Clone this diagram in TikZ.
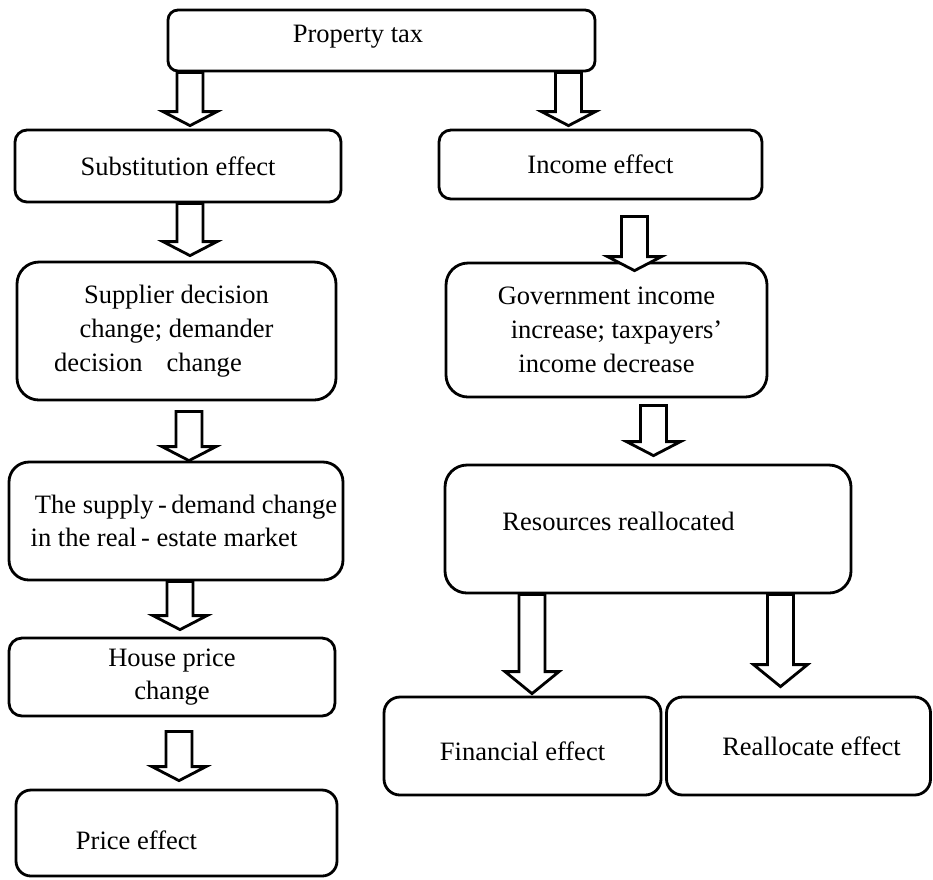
\documentclass[tikz,border=0pt]{standalone}
\usepackage{fontspec}
\setmainfont{Liberation Serif}
\usetikzlibrary{calc}

\tikzset{
  effbox/.style={draw,line width=0.8pt,rounded corners=#1,align=center,inner sep=0pt},
  effbox/.default=0.12cm,
  blockshape/.style={draw,fill=white,line width=0.8pt,line join=miter}
}
% hollow block arrow: [head length]{start}{tip}
\newcommand{\blockarrow}[3][0.14]{%
  \draw[blockshape] let \p1=#2, \p2=#3 in
    (\x1-0.13cm,\y1) -- (\x1-0.13cm,\y2+#1cm) -- (\x1-0.27cm,\y2+#1cm) -- (\x1,\y2)
    -- (\x1+0.27cm,\y2+#1cm) -- (\x1+0.13cm,\y2+#1cm) -- (\x1+0.13cm,\y1) -- cycle;}

\begin{document}
\begin{tikzpicture}[font=\fontsize{7.55}{9.6}\selectfont]
  \useasboundingbox (0,0) rectangle (9.33,-8.79);

  % Top box
  \node[effbox=0.10cm,minimum width=4.27cm,minimum height=0.61cm,text height=0.13cm,text depth=0.10cm]
        (pt) at (3.815,-0.405) {\hspace*{-0.47cm}Property tax};

  % Left column
  \node[effbox=0.12cm,minimum width=3.26cm,minimum height=0.72cm]
        (sub) at (1.78,-1.66) {Substitution effect};
  \node[effbox=0.22cm,minimum width=3.19cm,minimum height=1.38cm]
        (sup) at (1.765,-3.31) {Supplier decision\\change; demander\\\hspace*{-0.57cm}decision\hspace{0.24cm}change};
  \node[effbox=0.20cm,minimum width=3.34cm,minimum height=1.18cm]
        (sdm) at (1.76,-5.21) {\hspace*{0.2cm}The supply\,-\,demand change\\\hspace*{-0.24cm}in the real\,- estate market};
  \node[effbox=0.13cm,minimum width=3.26cm,minimum height=0.78cm]
        (hpc) at (1.72,-6.77) {House price\\change};
  \node[effbox=0.15cm,minimum width=3.21cm,minimum height=0.86cm,text height=0.32cm,text depth=0cm]
        (pef) at (1.765,-8.33) {\hspace*{-0.8cm}Price effect};

  % Right column
  \node[effbox=0.12cm,minimum width=3.23cm,minimum height=0.69cm]
        (inc) at (6.005,-1.645) {Income effect};
  \node[effbox=0.22cm,minimum width=3.21cm,minimum height=1.34cm]
        (gov) at (6.065,-3.30) {Government income\\\hspace*{0.2cm}increase; taxpayers’\\income decrease};
  \node[effbox=0.22cm,minimum width=4.06cm,minimum height=1.28cm,text height=0.12cm,text depth=0.10cm]
        (res) at (6.48,-5.29) {\hspace*{-0.59cm}Resources reallocated};
  \node[effbox=0.16cm,minimum width=2.77cm,minimum height=0.98cm,text height=0.28cm,text depth=0cm]
        (fin) at (5.225,-7.46) {Financial effect};
  \node[effbox=0.16cm,minimum width=2.64cm,minimum height=0.98cm]
        (rea) at (7.985,-7.46) {\hspace*{0.26cm}Reallocate effect};

  % Block arrows
  \blockarrow{($(pt.south)+(-1.915,0)$)}{($(sub.north)+(0,0.03)$)}
  \blockarrow{($(pt.south)+(1.87,0)$)}{($(inc.north)+(0,0.03)$)}
  \blockarrow{($(sub.south)+(0.12,0)$)}{($(sup.north)+(0,0.05)$)}
  \blockarrow{($(sup.south)+(0.125,-0.10)$)}{(sdm.north)}
  \blockarrow{($(sdm.south)+(0.04,0)$)}{($(hpc.north)+(0,0.07)$)}
  \blockarrow{($(hpc.south)+(0.07,-0.14)$)}{($(pef.north)+(0,0.08)$)}
  \blockarrow{($(inc.south)+(0.34,-0.16)$)}{($(gov.north)+(0,-0.09)$)}
  \blockarrow{($(gov.south)+(0.47,-0.07)$)}{($(res.north)+(0,0.08)$)}
  \blockarrow[0.22]{($(res.south)+(-1.16,0)$)}{($(fin.north)+(0,0.02)$)}
  \blockarrow[0.22]{($(res.south)+(1.325,0)$)}{($(rea.north)+(0,0.09)$)}
\end{tikzpicture}
\end{document}
